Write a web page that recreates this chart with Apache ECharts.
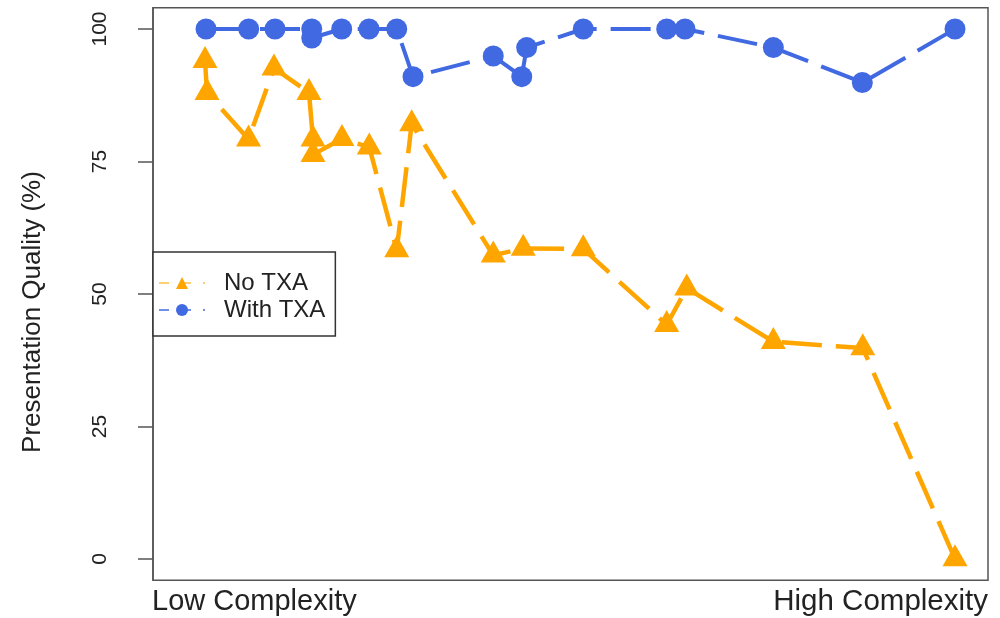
<!DOCTYPE html>
<html>
<head>
<meta charset="utf-8">
<script src="https://cdn.jsdelivr.net/npm/echarts@6/dist/echarts.min.js"></script>
<style>html,body{margin:0;padding:0;background:#fff}#c{width:1000px;height:618px}</style>
</head>
<body>
<div id="c"></div>
<script>
// Data (x: position along complexity scale 0..100, y: presentation quality %)
const seriesNames = ['No TXA', 'With TXA'];
const noTxaX = [6.23, 6.47, 11.44, 14.49, 18.68, 19.16, 19.16, 22.63, 25.90, 29.19, 30.98, 40.75, 44.34, 51.53, 61.52, 63.92, 74.29, 85.0, 96.05];
const noTxaY = [94.0, 88.0, 79.2, 92.6, 88.0, 79.2, 76.3, 79.3, 77.7, 58.3, 82.1, 57.3, 58.6, 58.5, 44.2, 51.1, 41.0, 39.8, 0];
const withTxaX = [6.35, 11.46, 14.61, 19.01, 19.01, 22.60, 25.87, 29.19, 31.14, 40.75, 44.16, 44.75, 51.53, 61.52, 63.71, 74.29, 84.95, 96.05];
const withTxaY = [100, 100, 100, 100, 98.3, 100, 100, 100, 91.0, 94.9, 91.0, 96.5, 100, 100, 100, 96.5, 89.9, 100];
const yTicks = [0, 25, 50, 75, 100];
const xEndLabels = ['Low Complexity', 'High Complexity'];
const yTitle = 'Presentation Quality (%)';

const FONT = "'Liberation Sans', Arial, sans-serif";
const ORANGE = '#FFA500';
const BLUE = '#4169E1';

const pair = (xs, ys) => xs.map((x, i) => [x, ys[i]]);

const chart = echarts.init(document.getElementById('c'), null, {renderer: 'canvas'});
chart.setOption({
  animation: false,
  backgroundColor: '#fff',
  grid: {
    left: 153, right: 12, top: 7.8, bottom: 37.8,
    show: true, borderColor: '#555', borderWidth: 1.5, backgroundColor: 'transparent'
  },
  xAxis: {
    type: 'value', min: 0, max: 100,
    axisLine: {show: false}, axisTick: {show: false}, axisLabel: {show: false},
    splitLine: {show: false}
  },
  yAxis: {
    type: 'value', min: -4, max: 104,
    axisLine: {show: true, lineStyle: {color: '#555', width: 1.5}},
    axisTick: {show: true, inside: false, length: 15, lineStyle: {color: '#555', width: 1.5}, customValues: yTicks},
    axisLabel: {show: true, rotate: 90, margin: 42, fontFamily: FONT, fontSize: 21, color: '#222', customValues: yTicks},
    splitLine: {show: false}
  },
  legend: {
    left: 153, top: 252, orient: 'vertical',
    backgroundColor: '#fff', borderColor: '#333', borderWidth: 1.5, borderRadius: 0,
    padding: [19, 10, 14, 5],
    itemGap: 3, itemWidth: 46, itemHeight: 15,
    textStyle: {fontFamily: FONT, fontSize: 24, color: '#222', padding: [0, 0, 0, 14], lineHeight: 24},
    data: [
      {name: seriesNames[0], lineStyle: {type: [10, 12], width: 2, opacity: 0.55}},
      {name: seriesNames[1], lineStyle: {type: [10, 12], width: 2, opacity: 0.75}}
    ]
  },
  graphic: [
    {type: 'text', left: 152, top: 587, style: {text: xEndLabels[0], font: '29px ' + FONT, fill: '#222'}},
    {type: 'text', right: 12, top: 587, style: {text: xEndLabels[1], font: '29.5px ' + FONT, fill: '#222'}},
    {type: 'text', x: 33, y: 312, rotation: Math.PI / 2,
     style: {text: yTitle, font: '26px ' + FONT, fill: '#222', align: 'center', verticalAlign: 'middle'}}
  ],
  series: [
    {
      name: seriesNames[0], type: 'line', data: pair(noTxaX, noTxaY),
      symbol: 'triangle', symbolSize: [25, 22], symbolOffset: [0, -3.7],
      itemStyle: {color: ORANGE},
      lineStyle: {color: ORANGE, width: 4.5, type: [40, 14]},
      z: 2
    },
    {
      name: seriesNames[1], type: 'line', data: pair(withTxaX, withTxaY),
      symbol: 'circle', symbolSize: 21,
      itemStyle: {color: BLUE},
      lineStyle: {color: BLUE, width: 4, type: [40, 14]},
      z: 3
    }
  ]
});
</script>
</body>
</html>
